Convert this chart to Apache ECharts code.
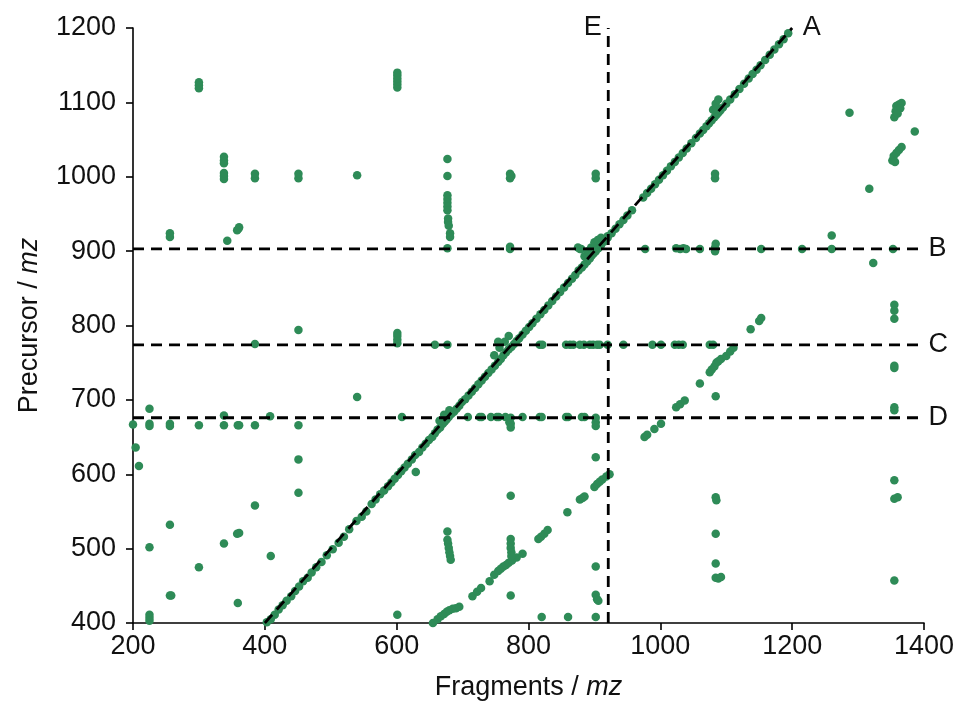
<!DOCTYPE html>
<html>
<head>
<meta charset="utf-8">
<title>Precursor vs fragment m/z</title>
<script src="https://cdn.jsdelivr.net/npm/echarts@6/dist/echarts.min.js"></script>
<style>
  html, body { margin: 0; padding: 0; background: #ffffff; }
  #chart { width: 961px; height: 706px; }
</style>
</head>
<body>
<div id="chart"></div>
<script>
// Axis ranges and ticks
const xTicks = [200, 400, 600, 800, 1000, 1200, 1400];
const yTicks = [400, 500, 600, 700, 800, 900, 1000, 1100, 1200];

// Reference lines: A is the diagonal precursor = fragment, B/C/D horizontal, E vertical
const lineA = [[400, 400], [1200, 1200]];
const lineB = 903;
const lineC = 774;
const lineD = 676;
const lineE = 921;

// Fragment / precursor pairs lying along the diagonal
const diagonalPts = [
  [403,401],[409,405],[415,411],[421,418],[427,424],[433,430],[440,436],[446,443],[452,449],[458,456],
  [465,461],[471,468],[478,475],[486,482],[494,491],[503,499],[512,508],[520,516],[528,526],[539,537],
  [547,543],[554,550],[562,560],[568,566],[575,573],[581,578],[587,584],[592,589],[597,594],[602,599],
  [607,604],[612,609],[617,614],[623,620],[628,626],[634,630],[639,636],[644,641],[649,646],[654,650],
  [658,655],[662,660],[666,663],[670,668],[673,671],[676,674],[679,677],[683,681],[687,684],[691,688],
  [695,692],[699,697],[704,701],[709,706],[714,711],[719,716],[724,721],[729,726],[734,731],[739,736],
  [744,741],[749,746],[754,751],[758,755],[762,760],[766,764],[770,768],[774,771],[778,775],[782,779],
  [786,783],[791,788],[796,793],[801,798],[806,803],[812,809],[818,815],[824,821],[830,827],[836,833],
  [842,839],[848,845],[854,851],[860,857],[866,863],[871,868],[876,874],[881,878],[885,882],[889,886],
  [893,890],[896,894],[899,897],[902,900],[906,904],[910,908],[915,913],[920,918],[926,924],[932,930],
  [938,936],[944,942],[950,948],[957,955],[974,972],[980,978],[986,984],[992,990],[998,996],[1004,1002],
  [1010,1008],[1016,1014],[1022,1020],[1028,1026],[1034,1032],[1040,1038],[1047,1045],[1054,1052],
  [1060,1058],[1065,1063],[1070,1068],[1074,1072],[1078,1076],[1082,1080],[1085,1083],[1088,1086],
  [1091,1089],[1095,1093],[1100,1098],[1106,1104],[1113,1111],[1120,1118],[1127,1125],[1134,1132],
  [1140,1138],[1146,1144],[1152,1150],[1159,1157],[1166,1164],[1173,1171],[1180,1178],[1187,1185],
  [1194,1193],
  [1080,1090],[1084,1098],[1088,1104],[1086,1092],[875,905],[880,903],[885,893],[890,900],[895,905],
  [900,912],[905,915],[910,918],[748,760],[756,770],[764,778],[770,786],[665,672],[672,680],[680,686],
  [920,920]
];

// Lower parallel series
const lowerDiagPts = [
  [655,400],[662,405],[667,409],[672,412],[676,415],[680,417],[685,419],[690,420],[695,422],[715,436],
  [722,442],[728,447],[741,456],[748,465],[754,470],[758,473],[762,476],[766,478],[770,481],[775,484],
  [782,488],[791,493],[815,513],[819,516],[824,520],[829,525],[859,549],[878,566],[882,568],[885,570],
  [900,583],[904,587],[908,590],[912,593],[918,597],[923,600]
];

// Right-hand parallel series
const rightDiagPts = [
  [976,650],[980,653],[991,661],[1001,668],[1024,690],[1030,694],[1037,699],[1060,722],[1075,737],
  [1078,741],[1082,745],[1085,750],[1088,752],[1092,755],[1100,759],[1106,765],[1111,770],[1137,795],
  [1150,806],[1153,810]
];

// Points along precursor 903
const rowBPts = [
  [677,904],[772,903],[772,906],[878,903],[977,903],[1024,904],[1030,903],[1035,904],[1039,903],
  [1060,903],[1083,900],[1083,905],[1084,910],[1153,903],[1215,903],[1260,903],[1260,921],[1353,903]
];

// Points along precursor 774
const rowCPts = [
  [385,775],[451,794],[601,776],[601,781],[601,786],[601,790],[658,774],[677,774],[754,778],[817,774],
  [821,774],[857,774],[863,774],[868,774],[878,774],[884,774],[893,774],[898,774],[904,774],[908,774],
  [920,774],[944,774],[988,774],[1001,774],[1022,774],[1028,774],[1034,774],[1075,774],[1080,774]
];

// Points along precursor 676
const rowDPts = [
  [200,667],[225,688],[225,668],[225,665],[256,668],[256,665],[300,666],[338,679],[338,666],[359,666],
  [361,666],[385,666],[408,678],[451,666],[608,677],[708,677],[726,677],[729,677],[743,677],[752,677],
  [755,677],[765,677],[771,670],[773,676],[773,668],[773,663],[791,677],[817,677],[820,677],[857,677],
  [860,677],[881,677],[885,677],[902,676],[902,670],[902,665],[1355,690],[1355,686]
];

// Remaining scattered points, upper part
const upperPts = [
  [300,1119],[300,1123],[300,1127],[338,1018],[338,1022],[338,1027],[338,997],[338,1001],[338,1005],
  [385,998],[385,1004],[451,998],[451,1004],[540,1002],[601,1120],[601,1124],[601,1128],[601,1132],
  [601,1136],[601,1140],[256,919],[256,924],[343,914],[358,928],[361,932],[360,930],[677,1024],
  [677,1001],[677,975],[677,970],[677,965],[677,960],[677,955],[678,944],[678,939],[679,934],[681,924],
  [681,919],[772,998],[772,1004],[774,1001],[902,998],[902,1004],[1083,998],[1083,1004],[1287,1086],
  [1355,1080],[1357,1088],[1358,1095],[1362,1097],[1366,1099],[1364,1092],[1360,1085],[1386,1061],
  [1352,1022],[1354,1028],[1358,1032],[1362,1036],[1366,1040],[1356,1020],[1317,984],[1323,884]
];

// Remaining scattered points, lower part
const lowerPts = [
  [204,636],[209,611],[225,502],[225,411],[225,407],[225,403],[256,532],[256,437],[258,437],[300,475],
  [338,507],[358,520],[361,521],[359,427],[385,558],[409,490],[451,620],[451,575],[540,704],[629,603],
  [601,411],[677,523],[677,512],[678,507],[679,501],[680,495],[681,490],[682,485],[773,571],[773,513],
  [773,507],[773,501],[774,495],[774,490],[773,437],[902,623],[902,476],[902,438],[904,432],[906,430],
  [820,408],[860,408],[902,408],[1084,705],[1084,569],[1085,565],[1084,520],[1084,480],[1084,461],
  [1088,460],[1092,462],[1355,743],[1355,746],[1355,592],[1355,567],[1360,569],[1355,457],[1355,828],
  [1355,820],[1355,809]
];

// Line tags and where they sit
const tagNames = ['A', 'B', 'C', 'D', 'E'];
const tagAnchors = [[1200, 1200], [1400, lineB], [1400, lineC], [1400, lineD], [lineE, 1200]];
const tagSides = ['right', 'right', 'right', 'right', 'left'];

const dotColor = '#2e8b57';
const inkColor = '#111111';
const fontFamily = 'Liberation Sans, Arial, Helvetica, sans-serif';
const dash = [11, 7];

const allPts = [].concat(diagonalPts, lowerDiagPts, rightDiagPts, rowBPts, rowCPts, rowDPts, upperPts, lowerPts);

function dashedLine(data) {
  return {
    type: 'line',
    data: data,
    symbol: 'none',
    silent: true,
    z: 5,
    clip: false,
    lineStyle: { color: '#000', width: 2.8, type: dash }
  };
}

const plainNumber = v => String(v);

const chart = echarts.init(document.getElementById('chart'), null, { renderer: 'canvas' });

chart.setOption({
  animation: false,
  backgroundColor: '#ffffff',
  grid: { left: 133, right: 37, top: 28, bottom: 79, containLabel: false },
  xAxis: {
    type: 'value',
    min: xTicks[0],
    max: xTicks[xTicks.length - 1],
    interval: 200,
    name: '{n|Fragments / }{i|mz}',
    nameLocation: 'middle',
    nameGap: 51,
    nameTextStyle: {
      rich: {
        n: { fontSize: 27, fontFamily: fontFamily, color: inkColor },
        i: { fontSize: 27, fontFamily: fontFamily, color: inkColor, fontStyle: 'italic' }
      }
    },
    axisLine: { show: true, lineStyle: { color: '#000', width: 1.6 } },
    axisTick: { show: true, length: 7, lineStyle: { color: '#000', width: 1.6 } },
    axisLabel: { fontSize: 27, fontFamily: fontFamily, color: inkColor, margin: 10, formatter: plainNumber },
    splitLine: { show: false }
  },
  yAxis: {
    type: 'value',
    min: yTicks[0],
    max: yTicks[yTicks.length - 1],
    interval: 100,
    name: '{n|Precursor / }{i|mz}',
    nameLocation: 'middle',
    nameRotate: 90,
    nameGap: 90,
    nameTextStyle: {
      rich: {
        n: { fontSize: 27, fontFamily: fontFamily, color: inkColor },
        i: { fontSize: 27, fontFamily: fontFamily, color: inkColor, fontStyle: 'italic' }
      }
    },
    axisLine: { show: true, lineStyle: { color: '#000', width: 1.6 } },
    axisTick: { show: true, length: 7, lineStyle: { color: '#000', width: 1.6 } },
    axisLabel: { fontSize: 27, fontFamily: fontFamily, color: inkColor, margin: 17, formatter: plainNumber },
    splitLine: { show: false }
  },
  series: [
    {
      type: 'scatter',
      data: allPts,
      symbol: 'circle',
      symbolSize: 8.5,
      itemStyle: { color: dotColor, opacity: 1 },
      silent: true,
      z: 2
    },
    dashedLine(lineA),
    dashedLine([[xTicks[0], lineB], [xTicks[xTicks.length - 1], lineB]]),
    dashedLine([[xTicks[0], lineC], [xTicks[xTicks.length - 1], lineC]]),
    dashedLine([[xTicks[0], lineD], [xTicks[xTicks.length - 1], lineD]]),
    dashedLine([[lineE, yTicks[0]], [lineE, yTicks[yTicks.length - 1]]]),
    {
      type: 'scatter',
      symbolSize: 1,
      silent: true,
      z: 6,
      clip: false,
      itemStyle: { opacity: 0 },
      data: tagNames.map((t, i) => ({
        name: t,
        value: tagAnchors[i],
        label: { position: tagSides[i], distance: tagSides[i] === 'left' ? 6 : (i === 0 ? 10 : 4) }
      })),
      label: {
        show: true,
        formatter: p => p.name,
        fontSize: 27,
        fontFamily: fontFamily,
        color: inkColor,
        opacity: 1
      },
      labelLayout: { hideOverlap: false }
    }
  ]
});
</script>
</body>
</html>
